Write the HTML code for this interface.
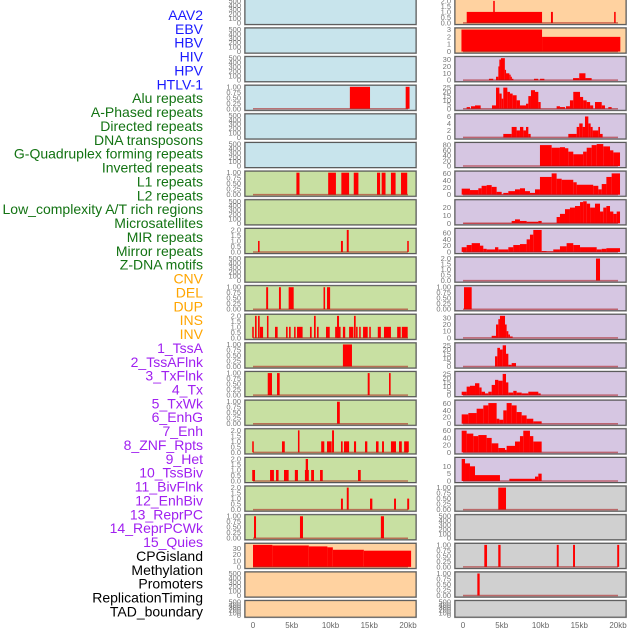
<!DOCTYPE html>
<html><head><meta charset="utf-8"><style>
html,body{margin:0;padding:0;background:#fff;}
svg{display:block;font-family:"Liberation Sans",sans-serif;}
</style></head><body>
<svg id="chart" width="630" height="630" viewBox="0 0 630 630" xmlns="http://www.w3.org/2000/svg"></svg>
<script>
// ---------- labels ----------
const trackLabels = ["AAV2","EBV","HBV","HIV","HPV","HTLV-1","Alu repeats","A-Phased repeats","Directed repeats","DNA transposons","G-Quadruplex forming repeats","Inverted repeats","L1 repeats","L2 repeats","Low_complexity A/T rich regions","Microsatellites","MIR repeats","Mirror repeats","Z-DNA motifs","CNV","DEL","DUP","INS","INV","1_TssA","2_TssAFlnk","3_TxFlnk","4_Tx","5_TxWk","6_EnhG","7_Enh","8_ZNF_Rpts","9_Het","10_TssBiv","11_BivFlnk","12_EnhBiv","13_ReprPC","14_ReprPCWk","15_Quies","CPGisland","Methylation","Promoters","ReplicationTiming","TAD_boundary"];
const labelGroups = [6,13,5,15,5];
const groupColors = ["#1a1aff","#137313","#ffa500","#a020f0","#000000"];
const xTickValues = [0,5,10,15,20];
const xTickLabels = ["0","5kb","10kb","15kb","20kb"];

// ---------- left column data: [startKb, endKb, value] ----------
const leftAlu = [[12.5,15.1,1],[19.7,20.2,1]];
const leftL1 = [[5.6,6.0,1],[9.7,10.7,1],[11.4,12.4,1],[13.0,13.6,1],[16.0,16.4,1],[16.6,17.1,1],[17.8,18.4,1],[19.1,19.9,1]];
const leftMir = [[0.65,0.85,1],[11.35,11.6,1],[12.1,12.35,2],[19.9,20.1,1]];
const leftCnv = [[1.7,1.95,1],[3.35,3.6,1],[4.6,5.25,1],[9.1,9.3,1],[9.55,9.95,1]];
const leftIns = [[-0.1,0.1,1],[0.26,0.47,2],[0.65,0.86,2],[0.9,1.3,1],[1.8,2.0,2],[2.84,3.18,1],[4.26,4.47,1],[4.65,4.86,1],[5.3,5.5,1],[5.68,6.4,1],[7.35,7.57,1],[7.87,8.09,2],[8.26,8.47,1],[9.42,9.9,1],[10.6,11.3,1],[10.84,11.1,2],[11.6,11.9,1],[12.4,12.95,1],[13.03,13.25,2],[13.3,13.5,1],[13.7,13.9,1],[14.2,14.8,1],[15.0,15.2,1],[16.1,16.5,1],[16.9,17.8,1],[18.6,19.06,1],[19.2,19.96,1]];
const leftTssA = [[11.6,12.77,1]];
const leftTxFlnk = [[1.9,2.45,1],[3.1,3.44,1],[14.8,15.05,1],[17.55,17.76,1]];
const leftTxWk = [[10.84,11.2,1]];
const leftEnh = [[-0.1,0.1,1],[3.74,4.1,1],[5.8,6.0,2],[8.8,9.2,1],[9.55,10.15,1],[10.2,10.45,2],[11.35,11.57,1],[11.74,12.4,1],[13.03,13.3,1],[14.45,14.75,1],[15.87,16.2,1],[16.65,16.9,1],[17.8,18.45,1],[18.84,19.2,1],[19.5,20.1,1]];
const leftZnf = [[-0.1,0.26,1],[2.2,2.7,1],[2.97,3.3,1],[4.0,4.6,1],[5.4,5.8,1],[6.7,7.2,1],[6.8,7.1,2],[7.5,7.87,1],[8.65,9.0,1],[13.55,13.9,1]];
const leftHet = [[11.35,11.6,1],[12.1,12.35,2],[15.1,15.4,1],[18.2,18.45,1],[19.9,20.15,1]];
const leftBiv = [[0.13,0.39,1],[6.06,6.45,1],[16.5,16.9,1]];
const leftCpg = [[0,2.5,36],[2.5,7.2,35],[7.2,9.6,33.5],[9.6,10.3,32],[10.3,14.3,28],[14.3,20.4,26.5]];

// ---------- right column data ----------
const rightAav2 = [[0.48,10.2,1],[3.9,4.1,2],[11.35,11.6,1],[19.5,19.7,1]];
const rightEbv = [[-0.2,10.2,3],[10.2,20.3,2]];
const rightHiv = [[3.35,3.9,2],[4.26,4.56,5],[4.56,4.69,20],[4.69,4.9,30],[4.9,5.4,32],[5.4,5.55,15],[5.55,5.98,10],[5.98,6.15,8],[6.15,6.3,5],[6.3,6.5,2],[9.16,9.7,2],[9.94,10.5,2],[14.2,15.0,3],[15.0,15.8,10],[15.8,16.6,3]];
const rightAlu = [[0.47,0.9,2],[1.03,1.55,3],[1.55,2.28,4],[3.74,4.26,4],[4.26,4.69,25],[4.69,4.99,18],[4.99,5.2,12],[5.2,5.72,25],[5.72,6.06,20],[6.06,6.41,18],[6.41,6.92,16],[6.92,7.35,10],[7.35,8.13,4],[8.13,8.43,6],[8.43,8.77,15],[8.77,9.29,22],[9.29,9.72,20],[9.72,10.02,8],[12.08,12.51,3],[12.51,13.16,2],[13.29,13.8,3],[13.8,14.23,10],[14.23,15.1,20],[15.1,15.5,14],[15.5,15.96,10],[15.96,16.4,8],[16.4,16.8,4],[17.03,17.9,8],[17.9,18.32,4],[18.75,19.18,2]];
const rightDirected = [[5.2,6.28,1],[6.28,6.92,3],[6.92,7.35,2],[7.35,7.78,3],[7.78,8.13,2],[8.13,8.43,3],[8.43,8.73,1],[13.59,14.67,1],[14.67,15.0,3],[15.0,15.44,4],[15.44,15.74,3],[15.74,16.17,6],[16.17,16.47,4],[16.47,16.73,3],[16.73,17.46,2],[17.46,17.68,3],[17.68,18.02,1]];
const rightGquad = [[9.93,11.44,80],[11.44,12.51,70],[12.51,13.16,72],[13.16,13.59,68],[13.59,14.23,55],[14.23,15.5,45],[15.5,15.96,55],[15.96,16.6,70],[16.6,17.25,80],[17.25,18.1,84],[18.1,18.97,75],[18.97,19.4,60],[19.4,20.26,52]];
const rightInverted = [[-0.17,0.9,17],[0.9,1.98,13],[1.98,2.4,18],[2.4,3.05,25],[3.05,3.7,27],[3.7,4.34,22],[4.34,4.99,8],[4.99,5.2,1],[5.2,5.85,5],[5.85,6.71,10],[6.71,7.35,15],[7.35,8.0,18],[8.0,8.64,10],[8.64,9.29,5],[9.29,9.93,15],[9.93,11.44,50],[11.44,12.08,60],[12.08,12.73,45],[12.73,14.23,42],[14.23,14.67,35],[14.67,16.8,28],[16.8,17.46,25],[17.46,17.9,15],[17.9,18.5,30],[18.5,19.18,50],[19.18,20.26,60]];
const rightLowComplexity = [[0.04,6.28,0.5],[6.28,6.71,3],[6.71,7.35,5],[7.35,8.21,3],[8.21,9.72,2],[9.72,10.15,3],[10.15,12.08,0.5],[12.08,12.51,8],[12.51,13.16,12],[13.16,13.8,18],[13.8,14.45,20],[14.45,15.1,22],[15.1,15.5,27],[15.5,15.96,30],[15.96,16.4,25],[16.4,17.03,20],[17.03,17.68,25],[17.68,18.1,15],[18.1,18.5,20],[18.5,18.97,22],[18.97,19.4,15],[19.4,19.83,12],[19.83,20.26,15]];
const rightMir = [[-0.17,0.47,15],[0.47,1.12,22],[1.12,2.19,28],[2.19,2.62,20],[2.62,3.05,10],[3.05,4.13,8],[4.13,4.56,15],[4.56,5.85,8],[5.85,6.49,15],[6.49,7.35,22],[7.35,8.21,25],[8.21,8.64,40],[8.64,9.07,55],[9.07,10.15,70],[10.15,10.79,3],[10.79,11.65,2],[11.65,12.51,8],[12.51,13.37,18],[13.37,14.23,28],[14.23,15.1,22],[15.1,17.25,15],[17.25,17.9,8],[17.9,18.5,10],[18.5,20.26,12]];
const rightZdna = [[17.16,17.68,2]];
const rightDel = [[0.13,1.12,1]];
const rightIns = [[3.7,4.26,3],[4.26,4.56,20],[4.56,4.77,28],[4.77,5.42,33],[5.42,5.63,20],[5.63,5.85,10],[5.85,6.06,5],[6.06,6.41,2]];
const rightTssA = [[4.13,4.43,12],[4.43,4.77,22],[4.77,5.12,20],[5.12,5.55,25],[5.55,5.85,15],[5.85,6.28,2],[6.28,6.84,4]];
const rightTssAFlnk = [[-0.17,0.47,4],[0.47,0.9,10],[0.9,1.55,11],[1.55,2.11,14],[2.11,2.4,9],[2.4,2.84,4],[2.84,3.27,2],[3.27,3.7,4],[3.7,4.13,12],[4.13,4.56,18],[4.56,5.12,17],[5.12,5.55,25],[5.55,5.85,15],[5.85,6.49,3],[6.49,6.92,5],[6.92,7.57,3],[7.57,8.43,2],[8.43,9.72,4],[9.72,10.02,2]];
const rightTx = [[-0.17,0.69,28],[0.69,1.76,32],[1.76,2.62,45],[2.62,3.27,55],[3.27,4.34,62],[4.34,4.69,15],[4.69,5.2,12],[5.2,5.63,40],[5.63,6.28,62],[6.28,6.92,55],[6.92,7.57,35],[7.57,8.21,25],[8.21,9.07,15],[9.07,10.15,7]];
const rightTxWk = [[-0.17,0.47,60],[0.47,1.33,52],[1.33,1.98,45],[1.98,3.05,48],[3.05,3.7,40],[3.7,4.56,25],[4.56,5.42,12],[5.42,5.63,7],[5.63,6.71,18],[6.71,7.35,30],[7.35,7.78,45],[7.78,8.64,60],[8.64,9.07,45],[9.07,10.15,30]];
const rightEnhG = [[-0.17,0.26,15],[0.26,0.9,12],[0.9,1.55,10],[1.55,4.77,4],[5.98,9.29,1.5],[9.29,9.72,3],[9.72,10.15,5]];
const rightEnh = [[4.55,5.55,1]];
const rightZnf = [[2.75,3.1,1],[4.55,4.85,1],[12.1,12.35,1],[14.2,14.45,1],[19.9,20.15,1]];
const rightHet = [[1.85,2.15,1]];

// ---------- tick sets ----------
const ticks500 = [0,100,200,300,400,500];
const ticks1 = [0,0.25,0.5,0.75,1];
const ticks2 = [0,0.5,1,1.5,2];
const ticks3 = [0,1,2,3];
const ticks30 = [0,10,20,30];
const ticks25 = [0,5,10,15,20,25];
const ticks6 = [0,2,4,6];
const ticks80 = [0,20,40,60,80];
const ticks60 = [0,20,40,60];
const ticks20 = [0,10,20];
const ticks10 = [0,5,10];

const BLUE="#c8e4ec", GREEN="#c8e0a2", ORANGE="#ffd2a0", LAV="#d6c6e2", GRAY="#d0d0d0";
// [name, bg, data, ticks, ymax, decimals]
const leftPanels = [
 ["aav2",BLUE,null,ticks500,500,0],["ebv",BLUE,null,ticks500,500,0],["hbv",BLUE,null,ticks500,500,0],
 ["alu",BLUE,leftAlu,ticks1,1,2],["hpv",BLUE,null,ticks500,500,0],["htlv",BLUE,null,ticks500,500,0],
 ["l1",GREEN,leftL1,ticks1,1,2],["l2",GREEN,null,ticks500,500,0],["mir",GREEN,leftMir,ticks2,2,1],
 ["zdna",GREEN,null,ticks500,500,0],["cnv",GREEN,leftCnv,ticks1,1,2],["ins",GREEN,leftIns,ticks2,2,1],
 ["tssa",GREEN,leftTssA,ticks1,1,2],["txflnk",GREEN,leftTxFlnk,ticks1,1,2],["txwk",GREEN,leftTxWk,ticks1,1,2],
 ["enh",GREEN,leftEnh,ticks2,2,1],["znf",GREEN,leftZnf,ticks2,2,1],["het",GREEN,leftHet,ticks2,2,1],
 ["enhbiv",GREEN,leftBiv,ticks1,1,2],["cpg",ORANGE,leftCpg,ticks30,36,0],["promoters",ORANGE,null,ticks500,500,0],
 ["tad",ORANGE,null,ticks500,500,0]
];
const rightPanels = [
 ["aav2",ORANGE,rightAav2,ticks2,2,1],["ebv",ORANGE,rightEbv,ticks3,3,0],["hiv",LAV,rightHiv,ticks30,32,0],
 ["alu",LAV,rightAlu,ticks25,26,0],["directed",LAV,rightDirected,ticks6,6.3,0],["gquad",LAV,rightGquad,ticks80,84,0],
 ["inverted",LAV,rightInverted,ticks60,62,0],["lowcomplexity",LAV,rightLowComplexity,ticks20,28,0],["mir",LAV,rightMir,ticks60,70,0],
 ["zdna",LAV,rightZdna,ticks2,2,1],["del",LAV,rightDel,ticks1,1,2],["ins",LAV,rightIns,ticks30,33,0],
 ["tssa",LAV,rightTssA,ticks25,26,0],["tssaflnk",LAV,rightTssAFlnk,ticks25,26,0],["tx",LAV,rightTx,ticks60,66,0],
 ["txwk",LAV,rightTxWk,ticks60,61,0],["enhg",LAV,rightEnhG,ticks10,15,0],["enh",GRAY,rightEnh,ticks1,1,2],
 ["znf",GRAY,null,ticks500,500,0],["het",GRAY,rightZnf,ticks1,1,2],["tssbiv",GRAY,rightHet,ticks1,1,2],
 ["quies",GRAY,null,ticks500,500,0]
];

const NS="http://www.w3.org/2000/svg";
const svg=document.getElementById('chart');
function mk(tag,attrs,parent){const e=document.createElementNS(NS,tag);for(const k in attrs)e.setAttribute(k,attrs[k]);(parent||svg).appendChild(e);return e;}

// labels
let li=0;
labelGroups.forEach((n,g)=>{for(let k=0;k<n;k++){
  const t=mk('text',{x:203,y:20+li*13.87,'text-anchor':'end','font-size':'14',fill:groupColors[g]});
  t.textContent=trackLabels[li];
  
  
  li++;}});

const KB=7.75;
function panelTop(i){return -0.6+28.63*i;}
function panelH(i){return i===21?16.5:25;}

function drawColumn(panels, x0, x1, zeroX, side){
  const xs=v=>zeroX+v*KB;
  panels.forEach((p,i)=>{
    const [name,bg,data,ticks,ymax,dec]=p;
    const top=panelTop(i), h=panelH(i);
    const g=mk('g',{});
    
    
    mk('rect',{x:x0-1,y:top-1,width:x1-x0+2,height:h+2,fill:'#aaa'},g);
    mk('rect',{x:x0,y:top,width:x1-x0,height:h,fill:bg,stroke:'#555','stroke-width':1},g);
    const yTop=top+1.5, yBot=top+h-1.5;
    const ys=v=>yBot-(Math.min(v,ymax)/ymax)*(yBot-yTop);
    if(data){
      data.forEach(d=>{
        const r=mk('rect',{x:xs(d[0]),y:ys(d[2]),width:Math.max(xs(d[1])-xs(d[0]),1.2),height:yBot-ys(d[2]),fill:'#ff0000'},g);
        
        
      });
      mk('line',{x1:xs(0),x2:xs(20),y1:yBot,y2:yBot,stroke:'rgba(170,20,20,0.55)','stroke-width':1.5},g);
    }
    ticks.forEach(tv=>{
      const t=mk('text',{x:x0-4,y:ys(tv)+2.5,'text-anchor':'end','font-size':'7.5',fill:'#777'},g);
      t.textContent=tv.toFixed(dec);
      
      
    });
  });
  xTickValues.forEach((v,k)=>{
    const t=mk('text',{x:xs(v),y:628,'text-anchor':'middle','font-size':'8',fill:'#666'});
    t.textContent=xTickLabels[k];
    
    
  });
}
drawColumn(leftPanels,245,416,253,'left');
drawColumn(rightPanels,455,626,463,'right');
</script>
</body></html>
